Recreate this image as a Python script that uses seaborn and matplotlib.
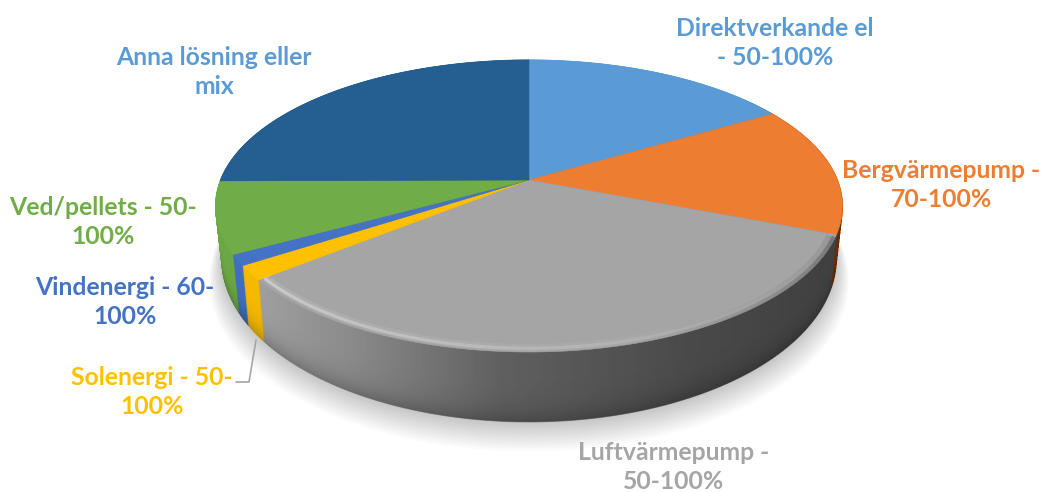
import numpy as np
import matplotlib
matplotlib.use("Agg")
import matplotlib.pyplot as plt
import seaborn as sns
from matplotlib.path import Path
from matplotlib.patches import PathPatch
from matplotlib.transforms import Transform, Affine2D
from matplotlib.collections import LineCollection

categories = ["Direktverkande el", "Bergvärmepump", "Luftvärmepump", "Solenergi",
              "Vindenergi", "Ved/pellets", "Anna lösning eller mix"]
shares = [16.5, 14.4, 33.3, 1.6, 1.2, 7.9, 25.1]
colors = ["#5b9bd5", "#ed7d31", "#a5a5a5", "#ffc000", "#4472c4", "#70ad47", "#255e91"]
label_lines = ["Direktverkande el\n- 50-100%", "Bergvärmepump -\n70-100%", "Luftvärmepump -\n50-100%",
               "Solenergi - 50-\n100%", "Vindenergi - 60-\n100%", "Ved/pellets - 50-\n100%",
               "Anna lösning eller\nmix"]
label_colors = ["#5b9bd5", "#ed7d31", "#a5a5a5", "#ffc000", "#4472c4", "#70ad47", "#5b9bd5"]
label_pos = [(775, 43), (941, 185), (674, 467), (152, 392), (125, 302), (103, 222), (214, 72)]

sns.set_theme(style="white")
plt.rcParams["font.family"] = ["Lato", "DejaVu Sans"]

CX, CY = 529.0, 180.0
A, B, K = 308.5, 141.4, 0.178


class Disc(Transform):
    """Perspective view of a unit disc; z=0 is the top face, z=1 the underside."""
    input_dims = output_dims = 2
    has_inverse = False

    def __init__(self, z=0.0, grow=1.0, dy=0.0):
        super().__init__()
        self.z, self.grow, self.dy = z, grow, dy

    def transform_non_affine(self, xy):
        xy = np.asarray(xy, float) * self.grow
        x, v = xy[:, 0], -xy[:, 1]
        w = 1 - K * v
        px = A * x / w * (1 - 0.02 * self.z)
        py = B * v / w * (1 + 0.116 * self.z) + 50 * self.z + self.dy
        return np.column_stack([CX + px, CY + py])

    def transform_path_non_affine(self, path):
        polys = path.to_polygons(transform=Affine2D().scale(3000), closed_only=False)
        verts = np.vstack(polys) / 3000.0
        return Path(self.transform_non_affine(verts))


fig = plt.figure(figsize=(10.47, 4.92), dpi=100)
ax = fig.add_axes([0, 0, 1, 1])


def draw_pie(values, cols, tr, **props):
    wedges, _ = ax.pie(values, colors=cols, startangle=90, counterclock=False, radius=1,
                       wedgeprops=props)
    for w in wedges:
        w.set_transform(tr + ax.transData)
        w.set_clip_on(False)
    return wedges


# soft shadow below the disc
for g, d in zip(np.linspace(1.04, 1.0, 14), np.linspace(20, 2, 14)):
    draw_pie([1], ["#000000"], Disc(1.0, g, d), alpha=0.017, linewidth=0)
    ax.patches[-1].set_zorder(0.5)

# side wall, back to front
levels = np.linspace(1, 0, 72)
for z in levels:
    dark = 1 - 0.22 * z ** 5
    cols = [tuple(c * dark for c in matplotlib.colors.to_rgb(col)) for col in colors]
    for w in draw_pie(shares, cols, Disc(z), linewidth=0.6):
        w.set_edgecolor(w.get_facecolor())
        w.set_zorder(1)

# left-to-right darkening of the wall
t = np.linspace(CX - 320, CX + 320, 320)
alpha = np.interp(t, [209, 262, 350, 500, 700, 849], [0.03, 0.04, 0.16, 0.42, 0.56, 0.62])
shade = np.zeros((2, t.size, 4))
shade[..., 3] = alpha
img = ax.imshow(shade, extent=(t[0], t[-1], 500, 100), aspect="auto", zorder=2, interpolation="bilinear")
theta = np.linspace(0, 2 * np.pi, 240)
circle = np.column_stack([np.cos(theta), np.sin(theta)])
outline = [Disc(z).transform_non_affine(circle) for z in np.linspace(0, 1, 60)]
hull = Path.make_compound_path(*[Path(o) for o in outline])
img.set_clip_path(PathPatch(hull, transform=ax.transData))

# top face
for w in draw_pie(shares, colors, Disc(0.0), linewidth=0.4):
    w.set_edgecolor(w.get_facecolor())
    w.set_zorder(3)


def rim_glow(a0, a1, radius, rgb, peak, width):
    ang = np.radians(np.linspace(a0, a1, 160))
    rim = np.column_stack([np.sin(ang), np.cos(ang)]) * radius
    pix = Disc(0.0).transform_non_affine(rim)
    segs = np.stack([pix[:-1], pix[1:]], axis=1)
    rgba = np.zeros((len(segs), 4))
    rgba[:, :3] = rgb
    rgba[:, 3] = np.linspace(peak, 0.0, len(segs)) ** 1.3
    ax.add_collection(LineCollection(segs, colors=rgba, linewidths=width, zorder=4))


# bevel: highlight on the front-left edge, dark blur towards the right edge
rim_glow(231, 115, 0.978, 0.88, 0.28, 5.0)
rim_glow(231, 115, 0.982, 0.92, 0.55, 2.2)
rim_glow(112, 165, 0.995, 0.2, 0.45, 3.0)
rim_glow(112, 165, 0.985, 0.3, 0.22, 6.0)

ax.set_aspect("auto")
ax.set_xlim(0, 1047)
ax.set_ylim(492, 0)
ax.set_axis_off()

for txt, col, (x, y) in zip(label_lines, label_colors, label_pos):
    ax.text(x, y, txt, color=col, ha="center", va="center", fontsize=17.8, fontweight="bold",
            linespacing=1.27, zorder=6)

ax.plot(np.array([236, 249, 256]), np.array([382, 382, 340]), color="#a6a6a6", lw=1.2, zorder=5)

fig.savefig("out.png", dpi=100)
